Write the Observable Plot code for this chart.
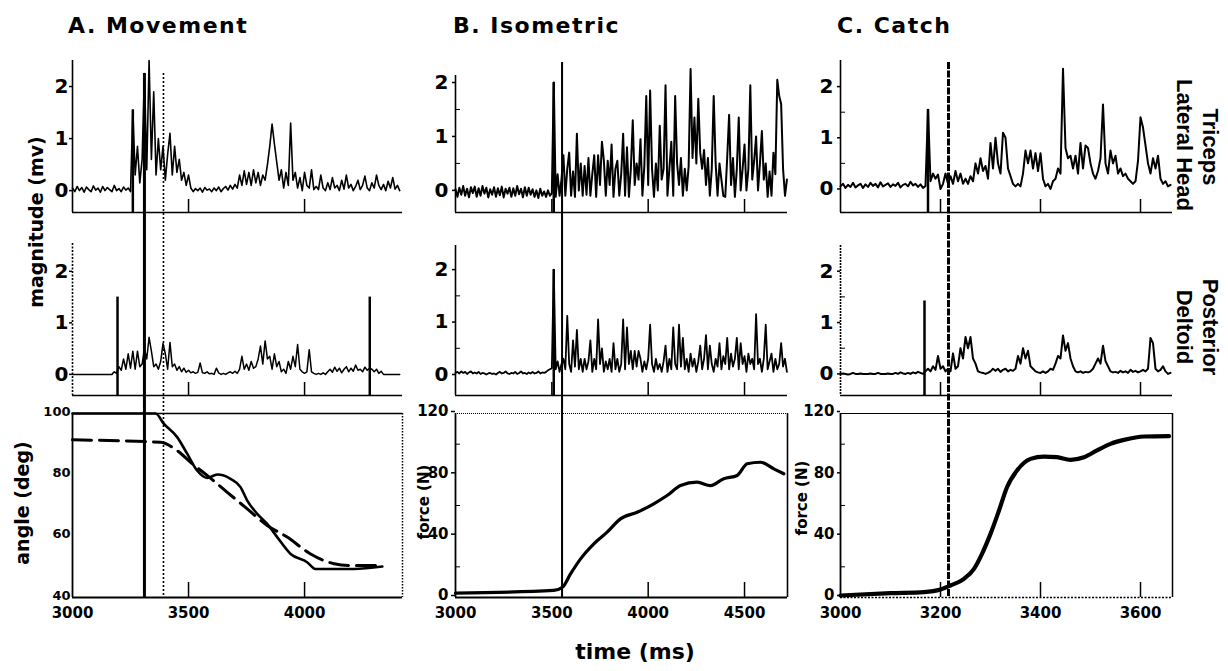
<!DOCTYPE html>
<html><head><meta charset="utf-8">
<script src="https://cdn.jsdelivr.net/npm/d3@7"></script>
<script src="https://cdn.jsdelivr.net/npm/@observablehq/plot@0.6"></script>
<style>
body{margin:0;background:#fff;}
#fig{position:relative;width:1228px;height:671px;overflow:hidden;background:#fff;}
#fig svg{position:absolute;}
</style></head><body><div id="fig"></div>
<script>
// ---------------- DATA ----------------
const titles = ["A. Movement", "B. Isometric", "C. Catch"];
const emgTicks = [0, 1, 2];
const emgMinor = [0.5, 1.5];

// Column A (Movement): EMG sampled every 10 ms from 3000 ms
const A_dt = 10;
const A_triceps = [
 0.05,-0.02,0.08,0.0,0.06,-0.03,0.07,0.02,-0.02,0.09,
 0.01,0.05,-0.03,0.08,0.0,0.06,0.02,-0.02,0.1,0.0,
 0.04,-0.02,0.07,0.01,0.05,-0.02,1.55,0.3,0.85,0.15,
 0.6,2.25,0.4,2.5,0.6,1.9,0.3,1.0,0.4,0.85,
 0.2,0.7,1.1,0.3,0.85,0.35,0.6,0.2,0.35,0.1,
 0.3,0.05,-0.02,0.04,0.0,0.05,-0.03,0.06,0.01,0.03,
 -0.02,0.05,0.0,0.07,-0.02,0.04,0.08,0.01,0.1,0.03,
 0.12,0.05,0.3,0.1,0.38,0.12,0.35,0.1,0.4,0.15,
 0.35,0.1,0.3,0.2,0.5,0.85,1.28,0.9,0.55,0.2,
 0.4,0.05,0.35,0.1,1.3,0.2,0.35,0.05,0.25,0.0,
 0.35,0.1,0.05,0.4,0.02,0.08,0.02,0.3,0.05,0.0,
 0.15,0.02,0.25,0.05,0.1,0.0,0.2,0.03,0.3,0.05,
 0.12,0.0,0.08,0.2,0.02,0.1,0.28,0.05,0.0,0.15,
 0.05,0.3,0.1,0.02,0.12,0.0,0.18,0.05,0.25,0.03,
 0.1,0.0
];
const A_deltoid = [
 0,0,0,0,0,0,0,0,0,0,
 0,0,0,0,0,0,0,0,0.05,0.02,
 0.15,0.08,0.3,0.1,0.4,0.12,0.45,0.1,0.45,0.15,
 0.2,0.5,0.3,0.72,0.45,0.15,0.2,0.1,0.25,0.6,
 0.4,0.1,0.62,0.15,0.2,0.08,0.15,0.05,0.12,0.04,
 0.08,0.03,0.05,0.02,0.04,0.22,0.03,0.02,0.05,0.01,
 0.02,0.0,0.12,0.03,0.0,0.02,0.0,0.03,0.05,0.02,
 0.06,0.02,0.1,0.35,0.1,0.2,0.08,0.25,0.12,0.15,
 0.3,0.55,0.2,0.65,0.3,0.35,0.1,0.4,0.15,0.25,
 0.05,0.1,0.02,0.25,0.1,0.35,0.15,0.58,0.1,0.05,
 0.02,0.05,0.48,0.05,0.02,0.0,0.02,0.0,0.03,0.0,
 0.05,0.1,0.04,0.14,0.06,0.12,0.03,0.1,0.15,0.05,
 0.12,0.06,0.18,0.08,0.1,0.05,0.14,0.08,0.12,0.1,
 0.05,0.1,0.02,0.06,0,0,0,0,0,0,
 0,0
];
const A_tricepsMarkers = [{t: 3260, v: 1.55}];
const A_deltoidMarkers = [{t: 3194, v: 1.5}, {t: 4281, v: 1.5}];
const A_angleTime = [3000,3358,3394,3451,3494,3537,3580,3624,3681,3724,3753,3796,3839,3882,3940,4011,4047,4213,4335];
const A_angle     = [100,100,96.6,92.3,86.9,81.4,79,80.1,78.7,76,71.6,67.3,64,59.7,54.2,51.5,49.3,49.3,50.1];
const A_targetTime = [3000,3379,3451,3509,3580,3667,3753,3839,3925,4026,4127,4198,4335];
const A_target     = [91.4,90.6,87.9,84.1,79.8,74.3,68.9,63.5,59.7,54.2,51,50.4,50.4];
const A_onsetSolid = [3310];
const A_onsetDotted = [3392];

// Column B (Isometric): EMG sampled every 10 ms from 3000 ms
const B_dt = 10;
const B_triceps = [
 0.02,-0.12,0.05,-0.08,0.08,-0.1,0.03,-0.13,0.06,-0.05,
 0.07,-0.12,0.04,-0.1,0.08,-0.06,0.05,-0.13,0.02,-0.08,
 0.06,-0.12,0.04,-0.09,0.07,-0.13,0.03,-0.06,0.05,-0.12,
 0.04,-0.1,0.08,-0.07,0.03,-0.13,0.06,-0.1,0.05,-0.08,
 0.02,-0.12,0.0,-0.14,0.03,-0.1,-0.02,-0.12,0.0,-0.1,
 -0.05,2.0,-0.12,0.3,-0.1,0.2,0.65,-0.1,0.4,0.7,
 -0.1,0.35,-0.12,1.05,0.0,0.5,-0.1,0.45,-0.08,0.6,
 -0.1,0.3,0.65,-0.12,0.65,0.1,0.9,0.55,-0.1,0.55,
 0.1,0.85,-0.12,0.4,0.55,-0.1,0.3,1.05,-0.1,0.8,
 -0.12,0.4,1.3,0.1,0.5,0.2,0.95,-0.1,0.45,1.75,
 0.1,1.85,0.4,-0.12,0.5,0.0,1.2,0.2,0.4,1.95,
 -0.1,0.4,0.9,-0.1,1.75,0.5,0.1,0.6,-0.1,0.4,
 0.0,0.45,2.25,0.6,1.35,0.5,1.7,0.7,0.4,0.75,
 0.1,0.6,-0.1,0.4,1.75,0.5,-0.1,0.5,0.2,-0.1,
 -0.12,0.6,1.4,0.1,0.6,-0.12,0.4,1.35,0.0,0.4,
 0.85,0.0,0.4,1.95,0.2,0.55,1.0,0.0,0.5,1.1,
 0.2,0.5,-0.12,0.35,-0.1,0.7,0.3,2.05,1.75,1.6,
 0.4,-0.1,0.2
];
const B_deltoid = [
 0.03,0.05,0.02,0.06,0.03,0.05,0.01,0.04,0.06,0.02,
 0.04,0.02,0.05,0.01,0.03,0.02,0.0,0.02,0.03,0.01,
 0.02,0.0,0.03,0.05,0.02,0.03,0.06,0.02,0.01,0.03,
 0.02,0.05,0.01,0.03,0.06,0.02,0.03,0.01,0.04,0.02,
 0.05,0.02,0.03,0.06,0.02,0.04,0.03,0.05,0.08,0.1,
 0.12,2.0,0.1,0.25,0.05,0.2,0.3,0.1,1.12,0.2,
 0.05,0.65,0.15,0.85,0.1,0.3,0.05,0.3,0.1,0.25,
 0.65,0.05,0.3,0.1,1.05,0.2,0.5,0.05,0.25,0.1,
 0.3,0.05,0.6,0.1,0.3,0.05,0.2,1.05,0.1,0.9,
 0.2,0.45,0.1,0.45,0.15,0.45,0.3,0.05,0.25,0.1,
 0.3,0.95,0.2,0.05,0.3,0.1,0.2,0.05,0.25,0.55,
 0.05,0.3,0.1,0.9,0.2,0.1,0.95,0.15,0.7,0.1,
 0.3,0.05,0.4,0.15,0.3,0.05,0.25,0.55,0.1,0.3,
 0.75,0.1,0.55,0.2,0.05,0.3,0.15,0.6,0.1,0.35,
 0.2,0.7,0.1,0.4,0.15,0.3,0.7,0.1,0.6,0.2,
 0.35,0.05,0.4,0.2,0.3,0.1,1.15,0.2,0.3,0.05,
 0.3,0.95,0.1,0.25,0.4,0.05,0.3,0.1,0.2,0.6,
 0.15,0.3,0.05
];
const B_tricepsMarkers = [{t: 3510, v: 2.0}];
const B_deltoidMarkers = [{t: 3510, v: 2.0}];
const B_forceTime = [3000,3510,3555,3597,3649,3718,3787,3856,3943,4029,4098,4168,4254,4323,4392,4462,4514,4583,4652,4704];
const B_force     = [2.8,4.6,6.7,15.4,25.2,35,42.6,51.3,55.6,61.1,66.5,73,75.2,73,77.4,79.6,87.2,88.2,83.9,80.7];
const B_onset = [3553];

// Column C (Catch): EMG sampled every 5 ms from 3000 ms
const C_dt = 5;
const C_triceps = [
 0.05,0.1,0.02,0.08,0.04,0.12,0.03,0.07,0.1,0.02,
 0.09,0.04,0.12,0.06,0.1,0.03,0.13,0.05,0.08,0.11,
 0.04,0.09,0.06,0.12,0.03,0.08,0.1,0.05,0.14,0.07,
 0.1,0.04,0.09,0.02,0.06,1.55,0.15,0.3,0.2,0.28,
 0.0,0.1,0.3,0.1,0.25,0.1,0.35,0.15,0.3,0.1,
 0.2,0.1,0.25,0.15,0.5,0.3,0.6,0.35,0.45,0.2,
 0.9,0.4,1.0,0.5,0.3,1.1,1.0,0.4,0.25,0.1,
 0.05,0.1,0.05,0.3,0.75,0.5,0.75,0.4,0.7,0.35,
 0.7,0.2,0.05,0.1,0.0,0.15,0.2,0.4,0.3,2.35,
 0.8,0.6,0.65,0.4,0.65,0.3,0.9,0.4,0.85,0.8,
 0.5,0.3,0.2,0.35,0.6,1.65,0.5,0.3,0.75,0.5,
 0.65,0.3,0.4,0.25,0.3,0.2,0.15,0.1,0.15,0.55,
 1.4,1.2,0.85,0.5,0.3,0.6,0.4,0.65,0.2,0.1,
 0.15,0.05,0.08
];
const C_deltoid = [
 0.0,0.01,0.0,-0.01,0.0,0.02,0.0,0.0,0.01,0.0,
 0.0,0.0,0.01,0.0,0.0,0.02,0.0,0.0,0.0,0.01,
 0.0,0.0,0.02,0.0,0.03,0.01,0.0,0.02,0.0,0.03,
 0.01,0.04,0.02,0.0,0.05,0.1,0.05,0.15,0.08,0.35,
 0.1,0.15,0.05,0.1,0.05,0.4,0.1,0.15,0.5,0.3,
 0.72,0.5,0.72,0.3,0.2,0.05,0.03,0.02,0.0,0.02,
 0.05,0.1,0.06,0.1,0.04,0.08,0.1,0.05,0.08,0.06,
 0.1,0.35,0.2,0.5,0.3,0.45,0.15,0.1,0.05,0.03,
 0.02,0.05,0.02,0.05,0.1,0.08,0.2,0.35,0.3,0.75,
 0.45,0.6,0.3,0.15,0.05,0.03,0.05,0.02,0.04,0.03,
 0.05,0.1,0.2,0.3,0.2,0.55,0.25,0.15,0.05,0.03,
 0.04,0.02,0.06,0.03,0.05,0.02,0.08,0.04,0.06,0.03,
 0.05,0.08,0.05,0.1,0.7,0.6,0.1,0.05,0.08,0.15,
 0.05,0.0,0.02
];
const C_tricepsMarkers = [{t: 3175, v: 1.55}];
const C_deltoidMarkers = [{t: 3168, v: 1.42}];
const C_forceTime = [3000,3100,3167,3200,3220,3247,3267,3283,3300,3317,3333,3353,3380,3407,3433,3460,3487,3513,3540,3567,3607,3657];
const C_force     = [1.3,2.8,3.5,5.2,7.8,12.2,18.7,28.5,41.5,56.7,71.9,82.8,90.4,91.9,91.5,89.8,91.5,95.9,100.2,102.8,105,105.2];
const C_onset = [3216];

// x-axis tick values per column
const A_xLabels = [3000, 3500, 4000];
const B_xLabels = [3000, 3500, 4000, 4500];
const C_xLabels = [3000, 3200, 3400, 3600];
const A_xTicks = [3500, 4000];
const B_xTicks = [3500, 4000, 4500];
const C_xTicks = [3200, 3400, 3600];
const angleTicks = [40, 60, 80, 100];
const forceTicks = [0, 40, 80, 120];
const forceMinor = [20, 60, 100];

// ---------------- LAYOUT ----------------
const cols = {
  A: {left: 72, right: 402, domain: [3000, 4422]},
  B: {left: 455, right: 787, domain: [3000, 4723]},
  C: {left: 840, right: 1172, domain: [3000, 3664]}
};
const FONT = "DejaVu Sans";
const fmt = d3.format("d");
const baseStyle = {background: "transparent", overflow: "visible", color: "black", fontFamily: FONT};
const fig = document.getElementById("fig");
function mount(svg, left, top) {
  svg.style.position = "absolute";
  svg.style.left = left + "px";
  svg.style.top = top + "px";
  fig.appendChild(svg);
}
function series(dt, vals) { return vals.map((v, i) => ({t: 3000 + i * dt, v})); }
function pairs(ts, vs) { return ts.map((t, i) => ({t, v: vs[i]})); }

function emgPanel({col, top, bottom, yDomain, values, dt, markers, xTicks, minor, axisDash, labelPad, stroke}) {
  const c = cols[col], W = c.right - c.left, H = bottom - top;
  const mL = 60, mR = 10, mT = 20, mB = 10;
  const svg = Plot.plot({
    width: W + mL + mR, height: H + mT + mB,
    marginLeft: mL, marginRight: mR, marginTop: mT, marginBottom: mB,
    x: {domain: c.domain, axis: null},
    y: {domain: yDomain, axis: null},
    style: baseStyle,
    marks: [
      Plot.ruleY([yDomain[0]], {strokeWidth: 1.6}),
      Plot.ruleX([c.domain[0]], {strokeWidth: 1.6, strokeDasharray: axisDash}),
      Plot.ruleX(xTicks, {insetTop: H - 13, strokeWidth: 1.5}),
      Plot.ruleY(minor, {insetRight: W - 5, strokeWidth: 1}),
      Plot.axisY({ticks: emgTicks, tickFormat: fmt, tickSize: 3, tickPadding: labelPad, label: null,
        fontSize: 20, fontWeight: "bold", fontFamily: FONT, strokeWidth: 1.5}),
      Plot.line(series(dt, values), {x: "t", y: "v", strokeWidth: stroke}),
      Plot.ruleX(markers, {x: "t", y1: yDomain[0], y2: "v", strokeWidth: 2.5})
    ]
  });
  mount(svg, c.left - mL, top - mT);
}

function bottomPanel({col, yDomain, yTicks, yTickSize, yLabelSize, yPad, minor, xLabels, xTicks, lines, frame}) {
  const c = cols[col], W = c.right - c.left, top = 413, bottom = 597, H = bottom - top;
  const mL = 60, mR = 10, mT = 10, mB = 30;
  const svg = Plot.plot({
    width: W + mL + mR, height: H + mT + mB,
    marginLeft: mL, marginRight: mR, marginTop: mT, marginBottom: mB,
    x: {domain: c.domain, axis: null},
    y: {domain: yDomain, axis: null},
    style: baseStyle,
    marks: [
      Plot.ruleY([yDomain[1]], frame.top),
      Plot.ruleX([c.domain[1]], frame.right),
      Plot.ruleY([yDomain[0]], frame.bottom),
      Plot.ruleX([c.domain[0]], {strokeWidth: 1.8}),
      Plot.ruleX(xTicks, {insetTop: H - 15, strokeWidth: 1.5}),
      Plot.ruleY(minor, {insetRight: W - 5, strokeWidth: 1}),
      Plot.axisY({ticks: yTicks, tickFormat: fmt, tickSize: yTickSize, tickPadding: yPad, label: null, dy: -2,
        fontSize: yLabelSize, fontWeight: "bold", fontFamily: FONT, strokeWidth: 1.5}),
      Plot.axisX({ticks: xLabels, tickFormat: fmt, tickSize: 0, tickPadding: 10, label: null,
        fontSize: 15, fontWeight: "bold", fontFamily: FONT}),
      ...lines
    ]
  });
  mount(svg, c.left - mL, top - mT);
}

function onsetOverlay({col, top, rules}) {
  const c = cols[col];
  const svg = Plot.plot({
    width: c.right - c.left, height: 597 - top, margin: 0,
    x: {domain: c.domain, axis: null},
    style: baseStyle,
    marks: rules
  });
  mount(svg, c.left, top);
}

// ---- Column A ----
emgPanel({col: "A", top: 60, bottom: 212, yDomain: [-0.42, 2.5], values: A_triceps, dt: A_dt,
  markers: A_tricepsMarkers, xTicks: A_xTicks, minor: [], axisDash: null, labelPad: 1, stroke: 1.6});
emgPanel({col: "A", top: 243, bottom: 395, yDomain: [-0.41, 2.54], values: A_deltoid, dt: A_dt,
  markers: A_deltoidMarkers, xTicks: A_xTicks, minor: [], axisDash: "2,1.5", labelPad: 1, stroke: 1.5});
bottomPanel({col: "A", yDomain: [40, 100], yTicks: angleTicks, yTickSize: 0, yLabelSize: 13, yPad: 2,
  minor: [], xLabels: A_xLabels, xTicks: A_xTicks,
  frame: {top: {strokeWidth: 1.6}, right: {strokeWidth: 1.5, strokeDasharray: "1.5,1.5"}, bottom: {strokeWidth: 1.8}},
  lines: [
    Plot.line(pairs(A_targetTime, A_target), {x: "t", y: "v", strokeWidth: 3, strokeDasharray: "19,8", curve: "monotone-x"}),
    Plot.line(pairs(A_angleTime, A_angle), {x: "t", y: "v", strokeWidth: 2.6, curve: "monotone-x"})
  ]});

// ---- Column B ----
emgPanel({col: "B", top: 75, bottom: 212, yDomain: [-0.41, 2.13], values: B_triceps, dt: B_dt,
  markers: B_tricepsMarkers, xTicks: B_xTicks, minor: emgMinor, axisDash: null, labelPad: 4, stroke: 2});
emgPanel({col: "B", top: 245, bottom: 395, yDomain: [-0.40, 2.46], values: B_deltoid, dt: B_dt,
  markers: B_deltoidMarkers, xTicks: B_xTicks, minor: emgMinor, axisDash: null, labelPad: 4, stroke: 1.8});
bottomPanel({col: "B", yDomain: [0, 120], yTicks: forceTicks, yTickSize: 4, yLabelSize: 15, yPad: 3,
  minor: forceMinor, xLabels: B_xLabels, xTicks: [4000, 4500],
  frame: {top: {strokeWidth: 1.2, strokeDasharray: "1,1"}, right: {strokeWidth: 1.6}, bottom: {strokeWidth: 1.8}},
  lines: [Plot.line(pairs(B_forceTime, B_force), {x: "t", y: "v", strokeWidth: 3.2, curve: "monotone-x"})]});

// ---- Column C ----
emgPanel({col: "C", top: 60, bottom: 212, yDomain: [-0.46, 2.51], values: C_triceps, dt: C_dt,
  markers: C_tricepsMarkers, xTicks: C_xTicks, minor: emgMinor, axisDash: null, labelPad: 4, stroke: 2});
emgPanel({col: "C", top: 245, bottom: 395, yDomain: [-0.42, 2.5], values: C_deltoid, dt: C_dt,
  markers: C_deltoidMarkers, xTicks: C_xTicks, minor: emgMinor, axisDash: "2,1", labelPad: 4, stroke: 2});
bottomPanel({col: "C", yDomain: [0, 120], yTicks: forceTicks, yTickSize: 3, yLabelSize: 15, yPad: 3,
  minor: forceMinor, xLabels: C_xLabels, xTicks: C_xTicks,
  frame: {top: {strokeWidth: 1.1}, right: {strokeWidth: 1.5}, bottom: {strokeWidth: 1.5, strokeDasharray: "2,1.5"}},
  lines: [Plot.line(pairs(C_forceTime, C_force), {x: "t", y: "v", strokeWidth: 4.2, curve: "monotone-x"})]});

// ---- Onset lines spanning the column ----
onsetOverlay({col: "A", top: 73, rules: [
  Plot.ruleX(A_onsetSolid, {strokeWidth: 3}),
  Plot.ruleX(A_onsetDotted, {strokeWidth: 1.6, strokeDasharray: "2,2"})
]});
onsetOverlay({col: "B", top: 62, rules: [Plot.ruleX(B_onset, {strokeWidth: 2})]});
onsetOverlay({col: "C", top: 62, rules: [Plot.ruleX(C_onset, {strokeWidth: 3, strokeDasharray: "7,1.5"})]});

// ---- Titles and axis labels ----
const ns = "http://www.w3.org/2000/svg";
const lab = document.createElementNS(ns, "svg");
lab.setAttribute("width", 1228); lab.setAttribute("height", 671);
lab.style.left = "0px"; lab.style.top = "0px"; lab.style.pointerEvents = "none";
const texts = [
  {s: titles[0], x: 68, y: 33, size: 22, ls: 1.5},
  {s: titles[1], x: 453, y: 33, size: 22, ls: 1.5},
  {s: titles[2], x: 837, y: 33, size: 22, ls: 1.5},
  {s: "magnitude (mv)", x: 43, y: 222, size: 19, rot: -90, anchor: "middle"},
  {s: "angle (deg)", x: 29, y: 503, size: 19, rot: -90, anchor: "middle"},
  {s: "force (N)", x: 429, y: 502, size: 15, rot: -90, anchor: "middle"},
  {s: "force (N)", x: 807, y: 498, size: 15, rot: -90, anchor: "middle"},
  {s: "time (ms)", x: 635, y: 659, size: 22, anchor: "middle"},
  {s: "Triceps", x: 1203, y: 147, size: 22, rot: 90, anchor: "middle", fam: "Liberation Sans"},
  {s: "Lateral Head", x: 1177, y: 145, size: 22, rot: 90, anchor: "middle", fam: "Liberation Sans"},
  {s: "Posterior", x: 1203, y: 327, size: 22, rot: 90, anchor: "middle", fam: "Liberation Sans"},
  {s: "Deltoid", x: 1177, y: 327, size: 22, rot: 90, anchor: "middle", fam: "Liberation Sans"}
];
for (const d of texts) {
  const t = document.createElementNS(ns, "text");
  t.textContent = d.s;
  t.setAttribute("font-family", d.fam || FONT);
  t.setAttribute("font-weight", "bold");
  t.setAttribute("font-size", d.size);
  if (d.ls) t.setAttribute("letter-spacing", d.ls);
  t.setAttribute("text-anchor", d.anchor || "start");
  t.setAttribute("transform", `translate(${d.x},${d.y})` + (d.rot ? ` rotate(${d.rot})` : ""));
  lab.appendChild(t);
}
fig.appendChild(lab);
</script>
</body></html>
